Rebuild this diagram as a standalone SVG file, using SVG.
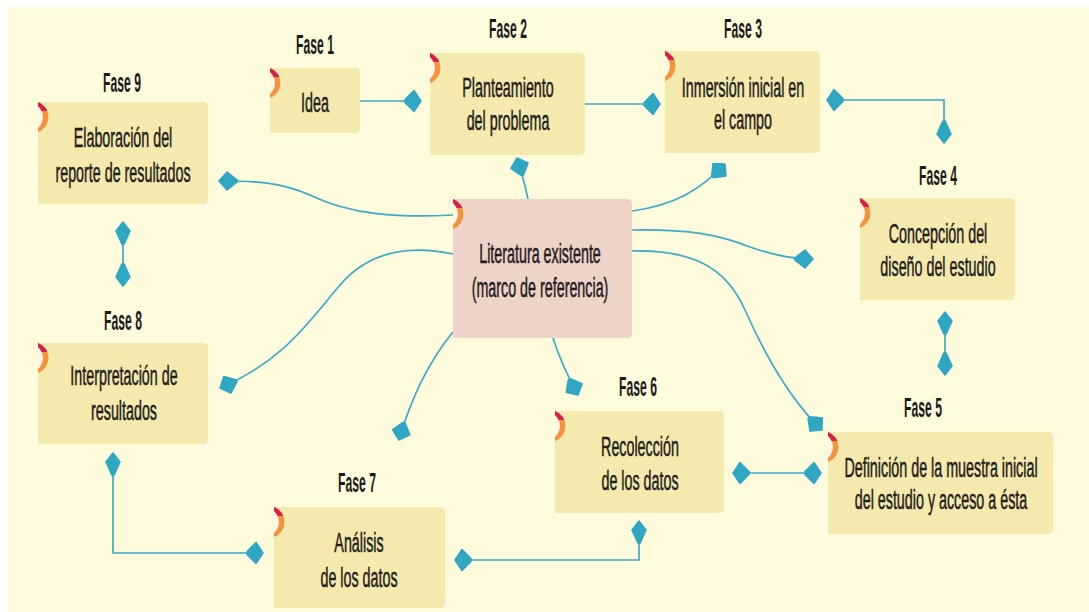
<svg xmlns="http://www.w3.org/2000/svg" xmlns:xlink="http://www.w3.org/1999/xlink" width="1089" height="612" viewBox="0 0 1089 612">
<style>
.box{fill:#f5eaae}
.lit{fill:#eed3c8}
.t{font-family:"Liberation Sans",Arial,sans-serif;font-size:27px;fill:#231e1d;stroke:#231e1d;stroke-width:0.55;text-anchor:middle}
.h{font-family:"Liberation Sans",Arial,sans-serif;font-size:27px;font-weight:bold;fill:#1c1a19;text-anchor:middle}
.c{fill:none;stroke:#3aabc5;stroke-width:1.7}
.hd{fill:#2fa7c3;stroke:#2fa7c3;stroke-width:1.5;stroke-linejoin:round}
</style>
<defs>
<marker id="ah" viewBox="-19 -13 21 26" refX="0" refY="0" markerWidth="21" markerHeight="26" markerUnits="userSpaceOnUse" orient="auto-start-reverse">
<path class="hd" d="M0,0 L-7,-10.5 L-16,-1.5 L-16,1.5 L-7,10.5 Z"/>
</marker>
<marker id="av" viewBox="-25 -9 27 18" refX="0" refY="0" markerWidth="27" markerHeight="18" markerUnits="userSpaceOnUse" orient="auto-start-reverse">
<path class="hd" d="M0,0 L-9,-7 L-22,-1.2 L-22,1.2 L-9,7 Z"/>
</marker>
<marker id="ad" viewBox="-21 -11 23 22" refX="0" refY="0" markerWidth="23" markerHeight="22" markerUnits="userSpaceOnUse" orient="auto">
<path class="hd" d="M0,0 L-8,-9 L-18,-1.2 L-18,1.2 L-8,9 Z"/>
</marker>
<clipPath id="ringTop"><rect x="-1" y="-1" width="16" height="10"/></clipPath>
<g id="ring">
<path d="M0,4 A14.6,14.6 0 0 1 0,26 Z" fill="#fdf5e6"/>
<path d="M0,0 A16,16 0 0 1 0,30 L0,26 A14.6,14.6 0 0 0 0,4 Z" fill="#f6923c"/>
<path d="M0,0 A16,16 0 0 1 0,30 L0,26 A14.6,14.6 0 0 0 0,4 Z" fill="#d8204b" clip-path="url(#ringTop)"/>
</g>
</defs>
<rect x="0" y="0" width="1089" height="612" fill="#ffffff"/>
<rect x="8" y="7" width="1081" height="605" fill="#fefbdd"/>

<g id="connectors">
<path class="c" d="M360,101 L421,101" marker-end="url(#ah)"/>
<path class="c" d="M585,104 L660,104" marker-end="url(#ah)"/>
<path class="c" d="M827,100 H944 V143" marker-start="url(#ah)" marker-end="url(#av)"/>
<path class="c" d="M945,312 V375" marker-start="url(#av)" marker-end="url(#av)"/>
<path class="c" d="M733,473 H821" marker-start="url(#ah)" marker-end="url(#ah)"/>
<path class="c" d="M639,521 V560 H455" marker-start="url(#av)" marker-end="url(#ah)"/>
<path class="c" d="M113,453 V553 H263" marker-start="url(#av)" marker-end="url(#ah)"/>
<path class="c" d="M123,222 V286" marker-start="url(#av)" marker-end="url(#av)"/>
<path class="c" d="M528,199 Q524,180 517,158" marker-end="url(#ad)"/>
<path class="c" d="M632,211 C675,205 700,190 725,164" marker-end="url(#ad)"/>
<path class="c" d="M632,230 C690,229 720,235 750,247 C775,256 795,259 813,259" marker-end="url(#ad)"/>
<path class="c" d="M632,251 C690,250 725,265 745,310 C765,355 790,400 822,430" marker-end="url(#ad)"/>
<path class="c" d="M453,215 C400,218 350,215 310,195 C280,182 255,181 219,181" marker-end="url(#ad)"/>
<path class="c" d="M453,254 C410,245 370,250 340,285 C310,320 285,360 220,388" marker-end="url(#ad)"/>
<path class="c" d="M453,332 C430,360 412,395 399,440" marker-end="url(#ad)"/>
<path class="c" d="M553,338 C560,360 567,375 578,395" marker-end="url(#ad)"/>
</g>

<g id="fase1">
<path class="box" d="M270,68 H355 Q360,68 360,73 V128 Q360,133 355,133 H270 Z"/>
<use xlink:href="#ring" href="#ring" x="270" y="68"/>
<text class="h" transform="translate(315,54) scale(0.45,1)">Fase 1</text>
<text class="t" transform="translate(315,112) scale(0.53,1)">Idea</text>
</g>

<g id="fase2">
<path class="box" d="M430,53 H580 Q585,53 585,58 V150 Q585,155 580,155 H430 Z"/>
<use xlink:href="#ring" href="#ring" x="430" y="53"/>
<text class="h" transform="translate(508,38) scale(0.45,1)">Fase 2</text>
<text class="t" transform="translate(508,97) scale(0.53,1)"><tspan x="0" y="0">Planteamiento</tspan><tspan x="0" y="33">del problema</tspan></text>
</g>

<g id="fase3">
<path class="box" d="M665,51 H815 Q820,51 820,56 V148 Q820,153 815,153 H665 Z"/>
<use xlink:href="#ring" href="#ring" x="665" y="51"/>
<text class="h" transform="translate(743,38) scale(0.45,1)">Fase 3</text>
<text class="t" transform="translate(743,97) scale(0.53,1)"><tspan x="0" y="0">Inmersión inicial en</tspan><tspan x="0" y="32">el campo</tspan></text>
</g>

<g id="fase4">
<path class="box" d="M860,198 H1010 Q1015,198 1015,203 V295 Q1015,300 1010,300 H860 Z"/>
<use xlink:href="#ring" href="#ring" x="860" y="198"/>
<text class="h" transform="translate(938,185) scale(0.45,1)">Fase 4</text>
<text class="t" transform="translate(938,243) scale(0.53,1)"><tspan x="0" y="0">Concepción del</tspan><tspan x="0" y="33">diseño del estudio</tspan></text>
</g>

<g id="fase5">
<path class="box" d="M828,432 H1048 Q1053,432 1053,437 V529 Q1053,534 1048,534 H828 Z"/>
<use xlink:href="#ring" href="#ring" x="828" y="432"/>
<text class="h" transform="translate(923,417) scale(0.45,1)">Fase 5</text>
<text class="t" transform="translate(941,477) scale(0.53,1)"><tspan x="0" y="0">Definición de la muestra inicial</tspan><tspan x="0" y="32">del estudio y acceso a ésta</tspan></text>
</g>

<g id="fase6">
<path class="box" d="M555,411 H719 Q724,411 724,416 V508 Q724,513 719,513 H555 Z"/>
<use xlink:href="#ring" href="#ring" x="555" y="411"/>
<text class="h" transform="translate(638,396) scale(0.45,1)">Fase 6</text>
<text class="t" transform="translate(640,456) scale(0.53,1)"><tspan x="0" y="0">Recolección</tspan><tspan x="0" y="34">de los datos</tspan></text>
</g>

<g id="fase7">
<path class="box" d="M274,507 H440 Q445,507 445,512 V603 Q445,608 440,608 H274 Z"/>
<use xlink:href="#ring" href="#ring" x="274" y="507"/>
<text class="h" transform="translate(357,492) scale(0.45,1)">Fase 7</text>
<text class="t" transform="translate(359,552) scale(0.53,1)"><tspan x="0" y="0">Análisis</tspan><tspan x="0" y="35">de los datos</tspan></text>
</g>

<g id="fase8">
<path class="box" d="M38,343 H203 Q208,343 208,348 V439 Q208,444 203,444 H38 Z"/>
<use xlink:href="#ring" href="#ring" x="38" y="343"/>
<text class="h" transform="translate(123,330) scale(0.45,1)">Fase 8</text>
<text class="t" transform="translate(124,385) scale(0.53,1)"><tspan x="0" y="0">Interpretación de</tspan><tspan x="0" y="35">resultados</tspan></text>
</g>

<g id="fase9">
<path class="box" d="M38,102 H203 Q208,102 208,107 V199 Q208,204 203,204 H38 Z"/>
<use xlink:href="#ring" href="#ring" x="38" y="102"/>
<text class="h" transform="translate(122,92) scale(0.45,1)">Fase 9</text>
<text class="t" transform="translate(123,147) scale(0.53,1)"><tspan x="0" y="0">Elaboración del</tspan><tspan x="0" y="35">reporte de resultados</tspan></text>
</g>

<g id="literatura">
<path class="lit" d="M453,199 H627 Q632,199 632,204 V333 Q632,338 627,338 H453 Z"/>
<use xlink:href="#ring" href="#ring" x="453" y="199"/>
<text class="t" transform="translate(540,263) scale(0.53,1)"><tspan x="0" y="0">Literatura existente</tspan><tspan x="0" y="34">(marco de referencia)</tspan></text>
</g>
</svg>
